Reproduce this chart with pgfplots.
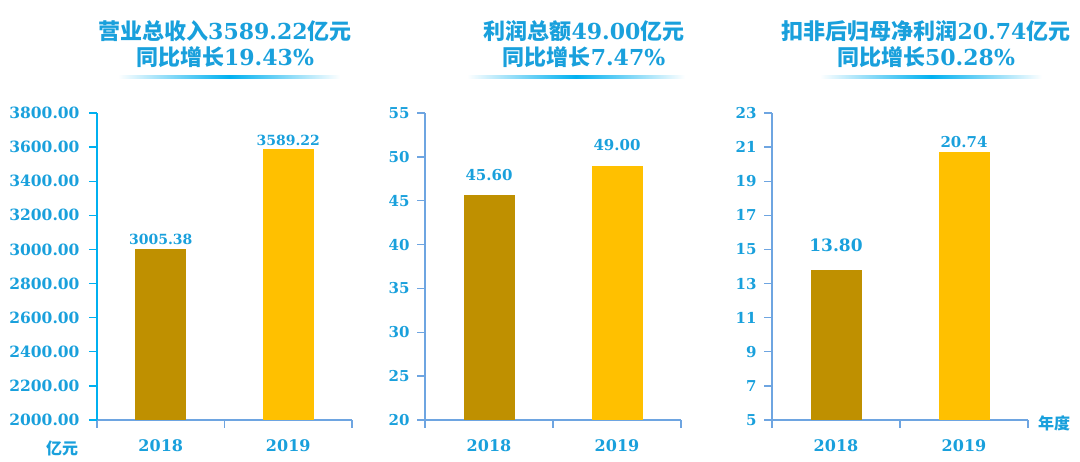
\documentclass[border=0pt]{standalone}
\usepackage{pgfplots}
\pgfplotsset{compat=1.18}
\usepackage{fontspec}
\setmainfont{DejaVu Serif}
\newfontfamily\cjk{Noto Sans CJK SC}
\definecolor{tblue}{RGB}{25,160,220}
\definecolor{bdark}{RGB}{191,144,0}
\definecolor{blight}{RGB}{255,192,0}
\definecolor{axblue}{RGB}{0,176,240}
\definecolor{axlight}{RGB}{110,165,225}
\pgfplotsset{
  panel/.style={
    scale only axis, width=255pt, height=307pt, anchor=south west,
    axis lines=left, axis line style={-, line width=1.3pt, axlight},
    xmin=0.5, xmax=2.5, xtick={1,2}, xticklabels={2018,2019},
    minor xtick={0.5,1.5,2.5},
    tick align=outside,
    major tick length=8pt, minor tick length=8pt,
    major x tick style={draw=none},
    minor x tick style={axlight, line width=1.3pt},
    y tick style={axlight, line width=1.3pt},
    xticklabel style={font=\bfseries\fontsize{16}{17}\selectfont, text=tblue, yshift=-8pt},
    yticklabel style={font=\bfseries\fontsize{15}{16}\selectfont, text=tblue, xshift=-4pt},
    /pgf/number format/assume math mode=true,
    point meta=explicit symbolic,
    nodes near coords,
    every node near coord/.append style={font=\bfseries\fontsize{15}{16}\selectfont, text=tblue},
    clip=false,
  },
  bardark/.style={ybar, bar width=51pt, bar shift=0pt, fill=bdark, draw=none},
  barlight/.style={ybar, bar width=51pt, bar shift=0pt, fill=blight, draw=none},
}
\begin{document}
\begin{tikzpicture}
\useasboundingbox (0pt,0pt) rectangle (1080pt,462pt);

% ---------- Panel 1 ----------
\begin{axis}[panel, at={(97pt,42pt)},
  ymin=2000, ymax=3800, ytick distance=200,
  y axis line style={axblue}, y tick style={axblue},
  yticklabel style={font=\bfseries\fontsize{15.5}{16}\selectfont, xshift=-2pt,
    /pgf/number format/.cd, fixed, fixed zerofill, precision=2, 1000 sep={}},
  every node near coord/.append style={font=\bfseries\fontsize{14}{16}\selectfont},
]
\addplot[bardark] coordinates {(1,3005.38) [3005.38]};
\addplot[barlight] coordinates {(2,3589.22) [3589.22]};
\end{axis}

% ---------- Panel 2 ----------
\begin{axis}[panel, at={(425pt,42pt)}, width=256pt,
  ymin=20, ymax=55, ytick distance=5,
  every node near coord/.append style={yshift=11pt},
]
\addplot[bardark] coordinates {(1,45.60) [45.60]};
\addplot[barlight] coordinates {(2,49.00) [49.00]};
\end{axis}

% ---------- Panel 3 ----------
\begin{axis}[panel, at={(772pt,42pt)}, width=256pt,
  ymin=5, ymax=23, ytick={5,7,...,23},
]
\addplot[bardark, every node near coord/.append style={yshift=15pt, font=\bfseries\fontsize{17}{18}\selectfont}] coordinates {(1,13.80) [13.80]};
\addplot[barlight] coordinates {(2,20.74) [20.74]};
\end{axis}

% ---------- Titles ----------
\begin{scope}[every node/.style={text=tblue, font=\bfseries\fontsize{22}{24}\selectfont, inner sep=0pt}]
\node at (225pt,431pt) {{\cjk 营业总收入}3589.22{\cjk 亿元}};
\node at (225pt,405pt) {{\cjk 同比增长}19.43\%};
\node at (584pt,431pt) {{\cjk 利润总额}49.00{\cjk 亿元}};
\node at (584pt,405pt) {{\cjk 同比增长}7.47\%};
\node at (926pt,431pt) {{\cjk 扣非后归母净利润}20.74{\cjk 亿元}};
\node at (926pt,405pt) {{\cjk 同比增长}50.28\%};
\end{scope}
\shade[left color=white, right color=white, middle color=axblue] (118pt,383.8pt) rectangle (340pt,386.2pt);
\shade[left color=white, right color=white, middle color=axblue] (467pt,383.8pt) rectangle (685pt,386.2pt);
\shade[left color=white, right color=white, middle color=axblue] (820pt,383.8pt) rectangle (1042pt,386.2pt);

\node[text=tblue, font=\cjk\bfseries\fontsize{16}{18}\selectfont, inner sep=0pt] at (62pt,14pt) {亿元};
\node[text=tblue, font=\cjk\bfseries\fontsize{16}{18}\selectfont, inner sep=0pt] at (1054pt,39pt) {年度};
\end{tikzpicture}
\end{document}
